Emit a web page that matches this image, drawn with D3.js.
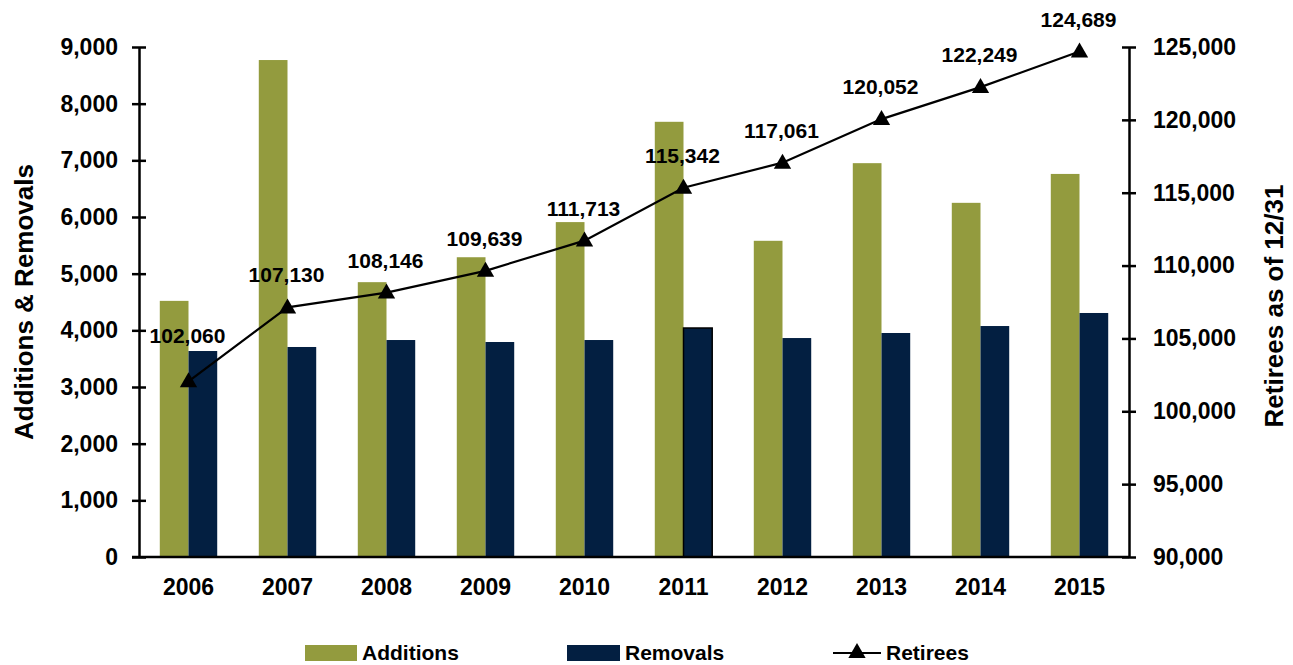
<!DOCTYPE html>
<html><head><meta charset="utf-8">
<script src="https://cdn.jsdelivr.net/npm/d3@7"></script>
<style>body{margin:0;background:#fff}svg{display:block;font-family:"Liberation Sans",Arial,sans-serif;font-weight:bold}</style>
</head><body><svg id="c" width="1293" height="665"></svg>
<script>
const years = ["2006","2007","2008","2009","2010","2011","2012","2013","2014","2015"];
const additions = [4520, 8770, 4850, 5290, 5910, 7680, 5580, 6950, 6250, 6760];
const removals = [3635, 3706, 3829, 3794, 3829, 4041, 3864, 3953, 4076, 4306];
const retirees = [102060, 107130, 108146, 109639, 111713, 115342, 117061, 120052, 122249, 124689];
const leftTicks = [0,1000,2000,3000,4000,5000,6000,7000,8000,9000];
const rightTicks = [90000,95000,100000,105000,110000,115000,120000,125000];

const svg = d3.select("#c");
const L = 139, R = 1129, T = 47, B = 557;
const fmt = d3.format(",");
const x = d3.scaleBand().domain(years).range([L, R]).paddingInner(0.42).paddingOuter(0.21);
const yL = d3.scaleLinear().domain([0, 9000]).range([B, T]);
const yR = d3.scaleLinear().domain([90000, 125000]).range([B, T]);
const colA = "#939b3e", colR = "#031f41";

const bw = x.bandwidth() / 2;
const g = svg.append("g");
g.selectAll("rect.a").data(years).enter().append("rect")
  .attr("x", d => x(d)).attr("width", bw)
  .attr("y", (d,i) => yL(additions[i])).attr("height", (d,i) => B - yL(additions[i]))
  .attr("fill", colA);
g.selectAll("rect.r").data(years).enter().append("rect")
  .attr("x", d => x(d) + bw).attr("width", bw)
  .attr("y", (d,i) => yL(removals[i])).attr("height", (d,i) => B - yL(removals[i]))
  .attr("fill", colR)
  .attr("stroke", (d,i) => i === 5 ? "#000" : "none").attr("stroke-width", 1.5);

// axes
const axL = d3.axisLeft(yL).tickValues(leftTicks).tickFormat(fmt).tickSizeInner(7).tickSizeOuter(0).tickPadding(14);
const gL = svg.append("g").attr("transform", `translate(${L},0)`).call(axL);
gL.selectAll(".tick line").attr("x2", -7).attr("x1", 7);
const axR = d3.axisRight(yR).tickValues(rightTicks).tickFormat(fmt).tickSizeInner(7).tickSizeOuter(0).tickPadding(17);
const gR = svg.append("g").attr("transform", `translate(${R},0)`).call(axR);
gR.selectAll(".tick line").attr("x1", -7).attr("x2", 7);
const axB = d3.axisBottom(x).tickSize(0).tickPadding(22);
const gB = svg.append("g").attr("transform", `translate(0,${B})`).call(axB);
[gL, gR, gB].forEach(a => {
  a.selectAll("path.domain").attr("stroke", "#000").attr("stroke-width", 2.5);
  a.selectAll(".tick line").attr("stroke", "#000").attr("stroke-width", 2.5);
  a.selectAll("text").attr("font-size", 23).attr("font-family", "Liberation Sans, Arial, sans-serif").attr("font-weight", "bold").attr("fill", "#000");
});
gB.select("path.domain").attr("d", `M${L-7},0H${R}`);

// line
const cx = d => x(d) + x.bandwidth() / 2;
const line = d3.line().x((d,i) => cx(years[i])).y(d => yR(d));
svg.append("path").datum(retirees).attr("d", line).attr("fill", "none").attr("stroke", "#000").attr("stroke-width", 2.2);
const tri = d3.symbol().type(d3.symbolTriangle).size(130);
svg.selectAll("path.m").data(retirees).enter().append("path")
  .attr("d", tri).attr("transform", (d,i) => `translate(${cx(years[i])},${yR(d)+1})`).attr("fill", "#000");
svg.selectAll("text.lbl").data(retirees).enter().append("text")
  .attr("x", (d,i) => cx(years[i]) - 1)
  .attr("y", (d,i) => yR(d) - (i === 0 ? 38 : 25))
  .attr("text-anchor", "middle").attr("font-size", 21).attr("fill", "#000")
  .text(d => fmt(d));

// axis titles
svg.append("text").attr("transform", "translate(33,302) rotate(-90)").attr("text-anchor", "middle")
  .attr("font-size", 26).text("Additions & Removals");
svg.append("text").attr("transform", "translate(1283,306) rotate(-90)").attr("text-anchor", "middle")
  .attr("font-size", 26).text("Retirees as of 12/31");

// legend
const lg = svg.append("g").attr("font-size", 21);
lg.append("rect").attr("x", 305).attr("y", 645).attr("width", 52).attr("height", 16).attr("fill", colA);
lg.append("text").attr("x", 362).attr("y", 660).text("Additions");
lg.append("rect").attr("x", 567).attr("y", 645).attr("width", 53).attr("height", 16).attr("fill", colR);
lg.append("text").attr("x", 625).attr("y", 660).text("Removals");
lg.append("line").attr("x1", 833).attr("x2", 881).attr("y1", 653).attr("y2", 653).attr("stroke", "#000").attr("stroke-width", 2);
lg.append("path").attr("d", tri).attr("transform", "translate(857,653)").attr("fill", "#000");
lg.append("text").attr("x", 886).attr("y", 660).text("Retirees");
</script></body></html>
